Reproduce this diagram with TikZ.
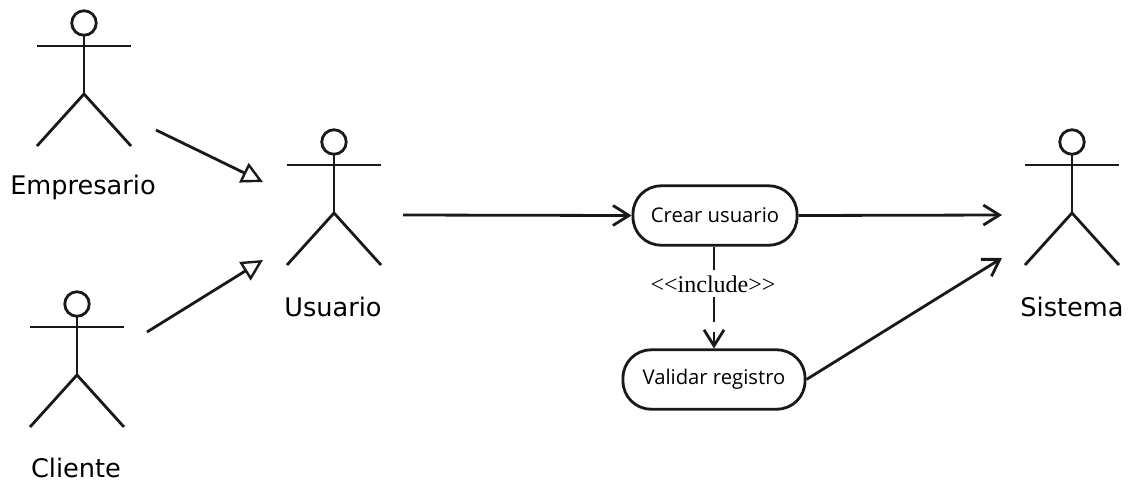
\documentclass[tikz,border=0pt]{standalone}
\usepackage{fontspec}
\setmainfont{DejaVu Sans}
\newfontfamily\ucfont{Open Sans}
\newfontfamily\incfont{Liberation Serif}
\usetikzlibrary{arrows.meta}
\tikzset{
  px/.style={x=0.75pt,y=-0.75pt},
  line/.style={line width=2.1pt,black!90},
  gener/.style={line,-{Triangle[open,length=16pt,width=16pt,line width=1.8pt]}},
  assoc/.style={line,-{Straight Barb[length=12pt,width=15pt,line width=2.1pt]}},
  actorlabel/.style={inner sep=0pt,font=\fontsize{19.2}{22}\selectfont,text=black},
  usecase/.style={draw,line,fill=white,rounded corners=21pt,inner sep=0pt,minimum height=44.5pt,font=\ucfont\fontsize{15.2}{18}\selectfont,text=black},
  inclabel/.style={inner sep=0pt,font=\incfont\fontsize{18}{20}\selectfont,text=black}
}
\newcommand{\actorfig}[3]{%
  \coordinate (#3) at (#1,#2);
  \draw[line] (#3) ++(0,12) circle (9.2pt);
  \draw[line] (#3) ++(0,24) -- ++(0,59);
  \draw[line] (#3) ++(-47,35) -- ++(94,0);
  \draw[line] (#3) ++(-47,135) -- ++(47,-52) -- ++(47,52);
}
\begin{document}
\begin{tikzpicture}[px]
\useasboundingbox (0,0) rectangle (1128,483);
\actorfig{84}{11}{aE}
\actorfig{334}{130}{aU}
\actorfig{77}{292}{aC}
\actorfig{1072}{130}{aS}
\node[actorlabel] (lE) at (83,187) {Empresario};
\node[actorlabel] (lU) at (333,307) {Usuario};
\node[actorlabel] (lC) at (76,468) {Cliente};
\node[actorlabel] (lS) at (1072,307) {Sistema};
\node[usecase,minimum width=123pt] (crear) at (715,215.5) {Crear usuario};
\node[usecase,minimum width=136.5pt] (validar) at (714,379.5) {Validar registro};
\node[inclabel] (inc) at (713,284) {<{}<include>{}>};
\coordinate (e1) at (156,130);
\coordinate (e2) at (263,182);
\coordinate (c1) at (147,332);
\coordinate (c2) at (263,260);
\coordinate (u1) at (403,215);
\coordinate (s1) at (1002,215);
\coordinate (s2) at (1002,258);
\draw[gener] (e1) -- (e2);
\draw[gener] (c1) -- (c2);
\draw[assoc] (u1) -- (crear.west);
\draw[assoc] (crear.east) -- (s1);
\draw[assoc] (validar.east) -- (s2);
\draw[assoc,dash pattern=on 17.5pt off 20pt on 19pt off 7.5pt on 20pt] (crear.south) ++(-1,0) -- (validar.north);
\end{tikzpicture}
\end{document}
